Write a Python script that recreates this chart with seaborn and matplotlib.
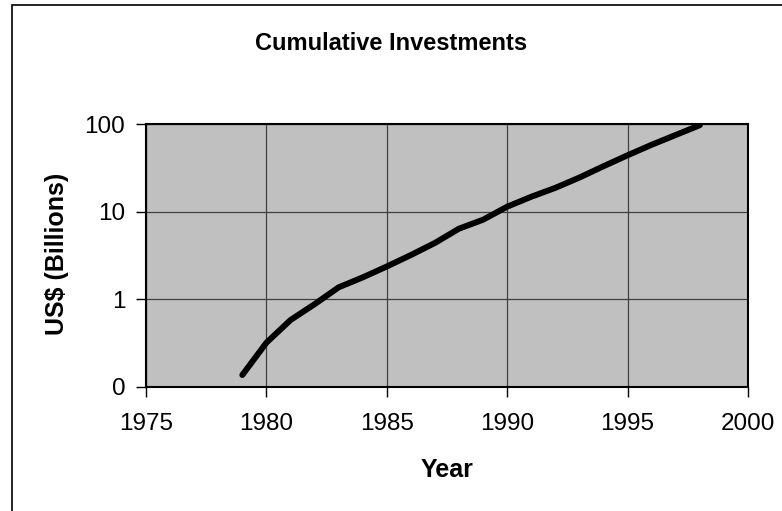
import pandas as pd
import seaborn as sns
import matplotlib.pyplot as plt
from matplotlib.patches import Rectangle
from matplotlib.ticker import FixedLocator, FixedFormatter, NullLocator

years = [1979, 1980, 1981, 1982, 1983, 1984, 1985, 1986, 1987, 1988,
         1989, 1990, 1991, 1992, 1993, 1994, 1995, 1996, 1997, 1998]
investment = [0.137, 0.32, 0.58, 0.88, 1.37, 1.78, 2.37, 3.2, 4.4, 6.4,
              8.1, 11.4, 14.8, 18.7, 24.5, 33, 44, 58, 75, 97]
y_ticks = [0.1, 1, 10, 100]
y_tick_labels = ['0', '1', '10', '100']
x_ticks = [1975, 1980, 1985, 1990, 1995, 2000]

df = pd.DataFrame({'Year': years, 'Investment': investment})

sns.set_style('whitegrid', {'axes.facecolor': '#c0c0c0', 'grid.color': '#404040',
                            'axes.edgecolor': 'black', 'text.color': 'black',
                            'xtick.color': 'black', 'ytick.color': 'black',
                            'axes.labelcolor': 'black'})
plt.rcParams['font.family'] = ['Liberation Sans', 'DejaVu Sans']

fig = plt.figure(figsize=(7.82, 5.11), dpi=100)
ax = fig.add_axes([0.1867, 0.2427, 0.7698, 0.5146])

sns.lineplot(data=df, x='Year', y='Investment', ax=ax, color='black', linewidth=4.3,
             solid_capstyle='round', solid_joinstyle='round')

ax.set_yscale('log')
ax.set_ylim(0.1, 100)
ax.set_xlim(1975, 2000)
ax.yaxis.set_major_locator(FixedLocator(y_ticks))
ax.yaxis.set_major_formatter(FixedFormatter(y_tick_labels))
ax.yaxis.set_minor_locator(NullLocator())
ax.set_xticks(x_ticks)
ax.set_xticklabels([str(x) for x in x_ticks])

ax.grid(True, color='#404040', linewidth=0.9)
for s in ax.spines.values():
    s.set_linewidth(1.5)
    s.set_color('black')
ax.tick_params(axis='both', direction='out', length=7, width=1, color='black',
               labelcolor='black', labelsize=17.5, left=True, bottom=True)
ax.tick_params(axis='y', pad=8)
ax.tick_params(axis='x', pad=12)

ax.set_xlabel('')
ax.set_ylabel('')
fig.text(0.073, 1 - 254 / 511, 'US$ (Billions)', rotation=90, ha='center', va='center',
         fontsize=18, fontweight='bold', color='black')
fig.text(447 / 782, 1 - 470 / 511, 'Year', ha='center', va='center', fontsize=18,
         fontweight='bold', color='black')
fig.text(391 / 782, 1 - 44 / 511, 'Cumulative Investments', ha='center', va='center',
         fontsize=17, fontweight='bold', color='black')

fig.patches.append(Rectangle((0.0153, -0.2), 1.2, 1.19, transform=fig.transFigure,
                             fill=False, edgecolor='black', linewidth=1.2))

fig.savefig('out.png', dpi=100)
